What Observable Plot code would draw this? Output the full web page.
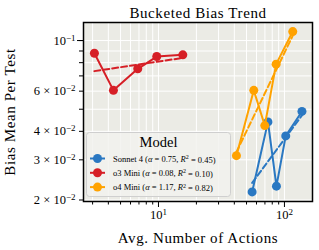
<!DOCTYPE html>
<html>
<head>
<meta charset="utf-8">
<script src="https://cdn.jsdelivr.net/npm/d3@7"></script>
<script src="https://cdn.jsdelivr.net/npm/@observablehq/plot@0.6"></script>
<style>
  html, body { margin: 0; padding: 0; background: white; }
  #chart { width: 319px; height: 250px; }
</style>
</head>
<body>
<div id="chart"></div>
<script>
// ---- data ----
const models = ["Sonnet 4", "o3 Mini", "o4 Mini"];
const colors = ["#2a78c2", "#d61f26", "#ffa200"];
const alphas = ["0.75", "0.08", "1.17"];
const r2s = ["0.45", "0.10", "0.82"];

const sonnetX = [55.4, 74.0, 86.4, 102.4, 137.7];
const sonnetY = [0.0217, 0.0440, 0.0230, 0.0382, 0.0489];
const o3X = [3.10, 4.39, 6.85, 9.69, 15.6];
const o3Y = [0.0880, 0.0605, 0.0752, 0.0851, 0.0866];
const o4X = [41.6, 57.1, 69.8, 85.9, 116.4];
const o4Y = [0.0313, 0.0605, 0.0424, 0.0788, 0.1095];

const xMajorTicks = [10, 100];
const xMajorLabels = ["10^1", "10^2"];
const xMinorTicks = [3, 4, 5, 6, 7, 8, 9, 20, 30, 40, 50, 60, 70, 80, 90];
const yTicks = [0.02, 0.03, 0.04, 0.05, 0.06, 0.07, 0.08, 0.09, 0.1];
const yLabelTicks = [0.1, 0.06, 0.04, 0.03, 0.02];
const yLabelTexts = ["10^-1", "6 × 10^-2", "4 × 10^-2", "3 × 10^-2", "2 × 10^-2"];

const titleText = "Bucketed Bias Trend";
const xLabelText = "Avg. Number of Actions";
const yLabelText = "Bias Mean Per Test";
const legendTitle = "Model";

// ---- build tables ----
const seriesX = [sonnetX, o3X, o4X];
const seriesY = [sonnetY, o3Y, o4Y];
const points = [];
const fits = [];
seriesX.forEach((xs, i) => {
  const ys = seriesY[i];
  xs.forEach((x, j) => points.push({model: models[i], x, y: ys[j]}));
  // least squares fit in log-log space
  const lx = xs.map(Math.log10), ly = ys.map(Math.log10);
  const mx = d3.mean(lx), my = d3.mean(ly);
  const b = d3.sum(lx.map((v, k) => (v - mx) * (ly[k] - my))) / d3.sum(lx.map(v => (v - mx) ** 2));
  const a = my - b * mx;
  [d3.min(xs), d3.max(xs)].forEach(x => fits.push({model: models[i], x, y: 10 ** (a + b * Math.log10(x))}));
});

const font = "'Liberation Serif', 'DejaVu Serif', serif";
const colorScale = {domain: models, range: colors};

const marks = [
  Plot.frame({fill: "#ebebe5", stroke: "none"}),
  Plot.gridX(xMajorTicks.concat(xMinorTicks), {stroke: "white", strokeOpacity: 1, strokeWidth: 1}),
  Plot.gridY(yTicks, {stroke: "white", strokeOpacity: 1, strokeWidth: 1})
];
models.forEach(m => {
  marks.push(
    Plot.line(points.filter(d => d.model === m), {x: "x", y: "y", stroke: "model", strokeWidth: 2}),
    Plot.dot(points.filter(d => d.model === m), {x: "x", y: "y", fill: "model", r: 4.5}),
    Plot.line(fits.filter(d => d.model === m), {x: "x", y: "y", stroke: "model", strokeWidth: 2, strokeDasharray: "6,3"})
  );
});
marks.push(
  Plot.frame({stroke: "black", strokeWidth: 1.5}),
  Plot.axisX(xMinorTicks, {tickSize: 3.5, tickFormat: () => "", label: null, stroke: "black"}),
  Plot.axisX(xMajorTicks, {tickSize: 6, tickFormat: () => "", label: null, stroke: "black"}),
  Plot.axisY(yTicks, {tickSize: 4, tickFormat: () => "", label: null, stroke: "black"}),
  Plot.axisY([0.1], {tickSize: 6, tickFormat: () => "", label: null, stroke: "black"}),
  // tick labels as text marks placed through the scales
  Plot.text(xMajorTicks, {x: d => d, frameAnchor: "bottom", lineAnchor: "top", dy: 9, fontSize: 12.5, text: (d, i) => xMajorLabels[i]}),
  Plot.text(yLabelTicks, {y: d => d, frameAnchor: "left", textAnchor: "end", lineAnchor: "middle", dx: -8, fontSize: 12.5, text: (d, i) => yLabelTexts[i]}),
  Plot.text([titleText], {frameAnchor: "top", lineAnchor: "bottom", dy: -5, fontSize: 15, text: d => d}),
  Plot.text([xLabelText], {frameAnchor: "bottom", lineAnchor: "bottom", dy: 41, fontSize: 15, text: d => d}),
  Plot.text([yLabelText], {frameAnchor: "left", textAnchor: "middle", lineAnchor: "middle", dx: -73, rotate: -90, fontSize: 15, text: d => d})
);

const svg = Plot.plot({
  width: 319,
  height: 250,
  marginLeft: 83,
  marginRight: 7,
  marginTop: 22,
  marginBottom: 49,
  style: {fontFamily: font, fontSize: "12px", background: "white", color: "black"},
  x: {type: "log", domain: [2.54, 167]},
  y: {type: "log", domain: [0.0197, 0.12]},
  color: colorScale,
  marks
});

// superscripts in tick labels, letter spacing on the big labels
d3.select(svg).selectAll("text").each(function() {
  const t = this.textContent;
  const sel = d3.select(this);
  if (t === titleText || t === xLabelText || t === yLabelText) {
    sel.style("letter-spacing", "0.6px");
    return;
  }
  if (!t.includes("^")) return;
  const [base, exp] = t.split("^");
  sel.text(null);
  sel.append("tspan").text(base);
  sel.append("tspan").attr("dy", "-0.45em").attr("font-size", "9px").text(exp.replace("-", "−"));
});

// legend
const lg = d3.select(svg).append("g").attr("font-family", font).attr("text-anchor", "start");
lg.append("rect").attr("x", 86.5).attr("y", 132.5).attr("width", 144).attr("height", 64)
  .attr("rx", 3).attr("fill", "#f2f2ee").attr("fill-opacity", 0.85).attr("stroke", "#cfcfcf");
lg.append("text").attr("x", 158.5).attr("y", 146.5).attr("text-anchor", "middle").attr("font-size", 14.5).text(legendTitle);
models.forEach((m, i) => {
  const cy = 158.5 + i * 14.3;
  lg.append("line").attr("x1", 90).attr("x2", 105).attr("y1", cy).attr("y2", cy).attr("stroke", colors[i]).attr("stroke-width", 2);
  lg.append("circle").attr("cx", 97.5).attr("cy", cy).attr("r", 4.5).attr("fill", colors[i]);
  const t = lg.append("text").attr("x", 113).attr("y", cy + 3).attr("font-size", 8.5).attr("text-anchor", "start");
  t.append("tspan").text(m + " (");
  t.append("tspan").attr("font-style", "italic").text("α");
  t.append("tspan").text(" = " + alphas[i] + ", ");
  t.append("tspan").attr("font-style", "italic").text("R");
  t.append("tspan").attr("dy", "-0.4em").attr("font-size", 6).text("2");
  t.append("tspan").attr("dy", "0.4em").text(" = " + r2s[i] + ")");
});

document.getElementById("chart").appendChild(svg);
</script>
</body>
</html>
